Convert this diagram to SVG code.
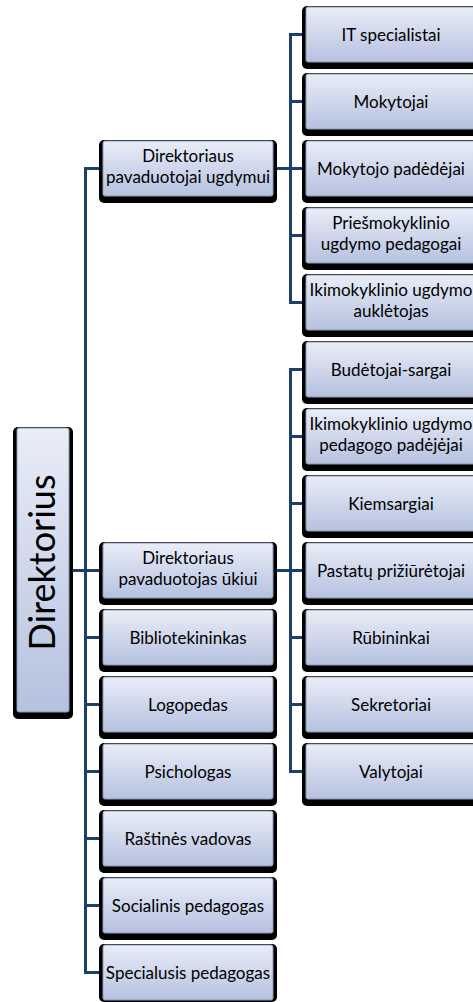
<svg xmlns="http://www.w3.org/2000/svg" width="473" height="1002" viewBox="0 0 473 1002">
<defs>
<linearGradient id="g" x1="0" y1="0" x2="0" y2="1">
<stop offset="0" stop-color="#E9EDF7"/>
<stop offset="1" stop-color="#B5C1DF"/>
</linearGradient>
<style>
.sh{fill:#000}
.bx{fill:url(#g);stroke:#8C9AB5;stroke-width:1}
.t{font-family:Lato,"Liberation Sans",sans-serif;font-size:17px;fill:#000;text-anchor:middle}
.big{font-family:Lato,"Liberation Sans",sans-serif;font-size:36px;fill:#000;text-anchor:middle}
.c{fill:none;stroke:#1F3F6B;stroke-width:3}
</style>
</defs>
<rect width="473" height="1002" fill="#fff"/>
<g id="connectors">
<path class="c" d="M103,168.5 H85.5 V972.5 H103"/>
<path class="c" d="M73,570.5 H103"/>
<path class="c" d="M85.5,637.5 H103 M85.5,704.5 H103 M85.5,771.5 H103 M85.5,838.5 H103 M85.5,905.5 H103"/>
<path class="c" d="M306,34.5 H290.5 V302.5 H306 M290.5,101.5 H306 M277,168.5 H306 M290.5,235.5 H306"/>
<path class="c" d="M306,369.5 H290.5 V771.5 H306 M290.5,436.5 H306 M290.5,503.5 H306 M277,570.5 H306 M290.5,637.5 H306 M290.5,704.5 H306"/>
</g>
<g id="n-direktorius">
<rect class="sh" x="13" y="427" width="60" height="292" rx="5"/>
<rect class="bx" x="17" y="428" width="52" height="284" rx="2"/>
<text class="big" transform="translate(55,562.5) rotate(-90)" x="0" y="0">Direktorius</text>
</g>
<g id="n-ugdymui">
<rect class="sh" x="99" y="140" width="178" height="63" rx="5"/>
<rect class="bx" x="103" y="141" width="170" height="55" rx="2"/>
<text class="t" x="188" y="162">Direktoriaus</text>
<text class="t" x="188" y="182.5">pavaduotojai ugdymui</text>
</g>
<g id="n-ukiui">
<rect class="sh" x="99" y="542" width="178" height="63" rx="5"/>
<rect class="bx" x="103" y="543" width="170" height="55" rx="2"/>
<text class="t" x="188" y="564">Direktoriaus</text>
<text class="t" x="188" y="584.5">pavaduotojas ūkiui</text>
</g>
<g id="n-bibliotekininkas">
<rect class="sh" x="99" y="609" width="178" height="63" rx="5"/>
<rect class="bx" x="103" y="610" width="170" height="55" rx="2"/>
<text class="t" x="188" y="643.5">Bibliotekininkas</text>
</g>
<g id="n-logopedas">
<rect class="sh" x="99" y="676" width="178" height="63" rx="5"/>
<rect class="bx" x="103" y="677" width="170" height="55" rx="2"/>
<text class="t" x="188" y="710.5">Logopedas</text>
</g>
<g id="n-psichologas">
<rect class="sh" x="99" y="743" width="178" height="63" rx="5"/>
<rect class="bx" x="103" y="744" width="170" height="55" rx="2"/>
<text class="t" x="188" y="777.5">Psichologas</text>
</g>
<g id="n-rastines">
<rect class="sh" x="99" y="810" width="178" height="63" rx="5"/>
<rect class="bx" x="103" y="811" width="170" height="55" rx="2"/>
<text class="t" x="188" y="844.5">Raštinės vadovas</text>
</g>
<g id="n-socialinis">
<rect class="sh" x="99" y="877" width="178" height="63" rx="5"/>
<rect class="bx" x="103" y="878" width="170" height="55" rx="2"/>
<text class="t" x="188" y="911.5">Socialinis pedagogas</text>
</g>
<g id="n-specialusis">
<rect class="sh" x="99" y="944" width="178" height="58" rx="5"/>
<rect class="bx" x="103" y="945" width="170" height="55" rx="2"/>
<text class="t" x="188" y="978.5">Specialusis pedagogas</text>
</g>
<g id="n-it">
<rect class="sh" x="302" y="6" width="178" height="63" rx="5"/>
<rect class="bx" x="306" y="7" width="170" height="55" rx="2"/>
<text class="t" x="391" y="40.5">IT specialistai</text>
</g>
<g id="n-mokytojai">
<rect class="sh" x="302" y="73" width="178" height="63" rx="5"/>
<rect class="bx" x="306" y="74" width="170" height="55" rx="2"/>
<text class="t" x="391" y="107.5">Mokytojai</text>
</g>
<g id="n-padejejai">
<rect class="sh" x="302" y="140" width="178" height="63" rx="5"/>
<rect class="bx" x="306" y="141" width="170" height="55" rx="2"/>
<text class="t" x="391" y="174.5">Mokytojo padėdėjai</text>
</g>
<g id="n-priesmokyklinio">
<rect class="sh" x="302" y="207" width="178" height="63" rx="5"/>
<rect class="bx" x="306" y="208" width="170" height="55" rx="2"/>
<text class="t" x="391" y="229">Priešmokyklinio</text>
<text class="t" x="391" y="249.5">ugdymo pedagogai</text>
</g>
<g id="n-aukletojas">
<rect class="sh" x="302" y="274" width="178" height="63" rx="5"/>
<rect class="bx" x="306" y="275" width="170" height="55" rx="2"/>
<text class="t" x="391" y="296">Ikimokyklinio ugdymo</text>
<text class="t" x="391" y="316.5">auklėtojas</text>
</g>
<g id="n-budetojai">
<rect class="sh" x="302" y="341" width="178" height="63" rx="5"/>
<rect class="bx" x="306" y="342" width="170" height="55" rx="2"/>
<text class="t" x="391" y="375.5">Budėtojai-sargai</text>
</g>
<g id="n-ped-padejejai">
<rect class="sh" x="302" y="408" width="178" height="63" rx="5"/>
<rect class="bx" x="306" y="409" width="170" height="55" rx="2"/>
<text class="t" x="391" y="430">Ikimokyklinio ugdymo</text>
<text class="t" x="391" y="450.5">pedagogo padėjėjai</text>
</g>
<g id="n-kiemsargiai">
<rect class="sh" x="302" y="475" width="178" height="63" rx="5"/>
<rect class="bx" x="306" y="476" width="170" height="55" rx="2"/>
<text class="t" x="391" y="509.5">Kiemsargiai</text>
</g>
<g id="n-pastatu">
<rect class="sh" x="302" y="542" width="178" height="63" rx="5"/>
<rect class="bx" x="306" y="543" width="170" height="55" rx="2"/>
<text class="t" x="391" y="576.5">Pastatų prižiūrėtojai</text>
</g>
<g id="n-rubininkai">
<rect class="sh" x="302" y="609" width="178" height="63" rx="5"/>
<rect class="bx" x="306" y="610" width="170" height="55" rx="2"/>
<text class="t" x="391" y="643.5">Rūbininkai</text>
</g>
<g id="n-sekretoriai">
<rect class="sh" x="302" y="676" width="178" height="63" rx="5"/>
<rect class="bx" x="306" y="677" width="170" height="55" rx="2"/>
<text class="t" x="391" y="710.5">Sekretoriai</text>
</g>
<g id="n-valytojai">
<rect class="sh" x="302" y="743" width="178" height="63" rx="5"/>
<rect class="bx" x="306" y="744" width="170" height="55" rx="2"/>
<text class="t" x="391" y="777.5">Valytojai</text>
</g>
</svg>
